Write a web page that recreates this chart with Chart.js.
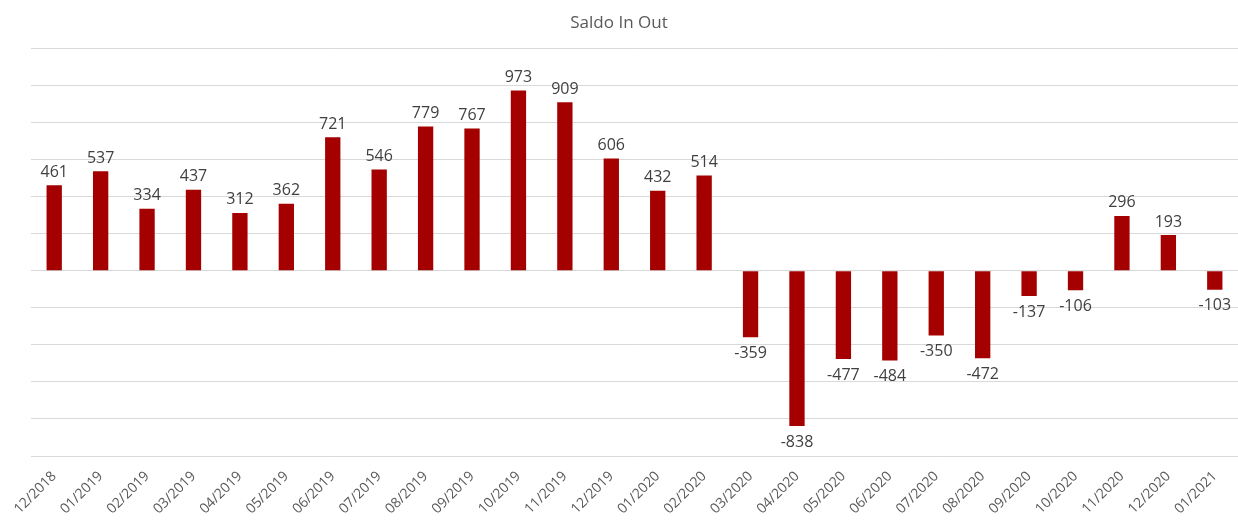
<!DOCTYPE html>
<html>
<head>
<meta charset="utf-8">
<script src="https://cdn.jsdelivr.net/npm/chart.js@4/dist/chart.umd.min.js"></script>
<style>
  html, body { margin: 0; padding: 0; background: #fff; }
</style>
</head>
<body>
<canvas id="chart" width="1238" height="521"></canvas>
<script>
const months = [
  "12/2018", "01/2019", "02/2019", "03/2019", "04/2019", "05/2019", "06/2019",
  "07/2019", "08/2019", "09/2019", "10/2019", "11/2019", "12/2019", "01/2020",
  "02/2020", "03/2020", "04/2020", "05/2020", "06/2020", "07/2020", "08/2020",
  "09/2020", "10/2020", "11/2020", "12/2020", "01/2021"
];
const saldo = [
  461, 537, 334, 437, 312, 362, 721, 546, 779, 767, 973, 909, 606, 432,
  514, -359, -838, -477, -484, -350, -472, -137, -106, 296, 193, -103
];
const yMin = -1000;
const yMax = 1200;
const yStep = 200;

const FONT = "'Open Sans', 'Liberation Sans', sans-serif";

// value labels above positive bars, below negative ones
const barLabels = {
  id: "barLabels",
  afterDatasetsDraw(chart) {
    const ctx = chart.ctx;
    const meta = chart.getDatasetMeta(0);
    ctx.save();
    ctx.font = "16px " + FONT;
    ctx.fillStyle = "#404040";
    ctx.textAlign = "center";
    meta.data.forEach((bar, i) => {
      const v = saldo[i];
      if (v >= 0) {
        ctx.textBaseline = "bottom";
        ctx.fillText(String(v), bar.x, bar.y - 5);
      } else {
        ctx.textBaseline = "top";
        ctx.fillText(String(v), bar.x, bar.y + 8);
      }
    });
    ctx.restore();
  }
};

new Chart(document.getElementById("chart").getContext("2d"), {
  type: "bar",
  data: {
    labels: months,
    datasets: [{
      label: "Saldo In Out",
      data: saldo,
      backgroundColor: "#a50000",
      borderWidth: 0,
      barPercentage: 0.33,
      categoryPercentage: 1
    }]
  },
  options: {
    responsive: false,
    animation: false,
    layout: { padding: 0 },
    plugins: {
      legend: { display: false },
      tooltip: { enabled: false },
      title: {
        display: true,
        text: "Saldo In Out",
        color: "#595959",
        font: { family: FONT, size: 17, weight: "normal" },
        padding: { top: 13, bottom: 15 }
      }
    },
    scales: {
      x: {
        grid: { display: false },
        border: { display: false },
        ticks: {
          color: "#595959",
          font: { family: FONT, size: 14 },
          minRotation: 45,
          maxRotation: 45,
          padding: 4
        },
        afterFit(s) { s.height = 65; }
      },
      y: {
        min: yMin,
        max: yMax,
        ticks: { display: false, stepSize: yStep },
        grid: { color: "#d9d9d9", lineWidth: 1, drawTicks: false },
        border: { display: false },
        afterFit(s) { s.width = 31; }
      }
    }
  },
  plugins: [barLabels]
});
</script>
</body>
</html>
